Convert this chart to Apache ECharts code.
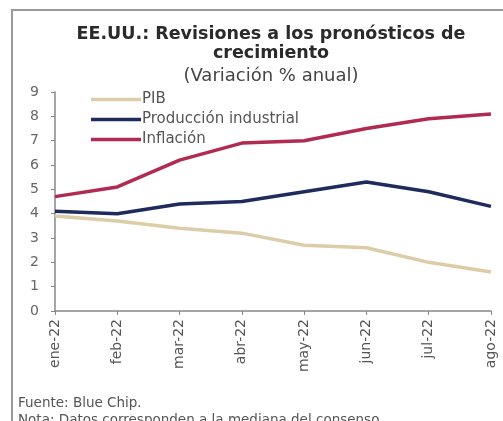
<!DOCTYPE html>
<html><head><meta charset="utf-8">
<script src="https://cdn.jsdelivr.net/npm/echarts@6/dist/echarts.min.js"></script>
<style>html,body{margin:0;padding:0;background:#fff}#c{width:503px;height:421px}</style>
</head><body><div id="c"></div>
<script>
const categories = ['ene-22','feb-22','mar-22','abr-22','may-22','jun-22','jul-22','ago-22'];
const pib = [3.9, 3.7, 3.4, 3.2, 2.7, 2.6, 2.0, 1.6];
const produccion = [4.1, 4.0, 4.4, 4.5, 4.9, 5.3, 4.9, 4.3];
const inflacion = [4.7, 5.1, 6.2, 6.9, 7.0, 7.5, 7.9, 8.1];
const yTicks = [0,1,2,3,4,5,6,7,8,9];

const chart = echarts.init(document.getElementById('c'), null, {renderer:'canvas'});
const font = '"DejaVu Sans", "Open Sans", sans-serif';
chart.setOption({
  animation:false,
  backgroundColor:'#fff',
  textStyle:{fontFamily:font},
  title:[
    {text:'EE.UU.: Revisiones a los pronósticos de', left:266, top:20, textAlign:'center',
     textStyle:{fontFamily:font, fontWeight:'bold', fontSize:17.5, color:'#2a2a2a'}},
    {text:'crecimiento', left:266, top:39, textAlign:'center',
     textStyle:{fontFamily:font, fontWeight:'bold', fontSize:17.5, color:'#2a2a2a'}},
    {text:'(Variación % anual)', left:266, top:62, textAlign:'center',
     textStyle:{fontFamily:font, fontWeight:'normal', fontSize:18, color:'#444'}}
  ],
  graphic:[
    {type:'rect', shape:{x:12,y:10,width:600,height:600}, style:{fill:'none', stroke:'#9a9a9a', lineWidth:2}, silent:true},
    {type:'text', left:18, top:396, style:{text:'Fuente: Blue Chip.', fontFamily:font, fontSize:13.5, fill:'#555'}},
    {type:'text', left:18, top:413, style:{text:'Nota: Datos corresponden a la mediana del consenso.', fontFamily:font, fontSize:13.5, fill:'#555'}}
  ],
  legend:{
    orient:'vertical', left:86, top:87, itemGap:5, itemWidth:50, itemHeight:3.5,
    icon:'rect',
    textStyle:{fontFamily:font, fontSize:15, color:'#555', padding:[0,0,0,-4]},
    data:['PIB','Producción industrial','Inflación']
  },
  grid:{left:55, right:12, top:92, bottom:110, containLabel:false},
  xAxis:{
    type:'category', data:categories, boundaryGap:false,
    axisLine:{lineStyle:{color:'#888', width:1.5}},
    axisTick:{show:true, alignWithLabel:true, length:4, inside:false, lineStyle:{color:'#888'}},
    axisLabel:{rotate:90, fontSize:14, color:'#555', margin:8, fontFamily:font}
  },
  yAxis:{
    type:'value', min:0, max:9, interval:1,
    axisLine:{show:true, lineStyle:{color:'#888', width:1.5}},
    axisTick:{show:true, length:4, lineStyle:{color:'#888'}},
    splitLine:{show:false},
    axisLabel:{fontSize:14, color:'#666', margin:16, fontFamily:font,
      formatter:function(v){return yTicks.indexOf(v)>=0?String(v):'';}}
  },
  series:[
    {name:'PIB', type:'line', data:pib, symbol:'none', lineStyle:{color:'#dccca8', width:3.5}, itemStyle:{color:'#dccca8'}},
    {name:'Producción industrial', type:'line', data:produccion, symbol:'none', lineStyle:{color:'#1e2b5c', width:3.5}, itemStyle:{color:'#1e2b5c'}},
    {name:'Inflación', type:'line', data:inflacion, symbol:'none', lineStyle:{color:'#b02a52', width:3.5}, itemStyle:{color:'#b02a52'}}
  ]
});
</script></body></html>
